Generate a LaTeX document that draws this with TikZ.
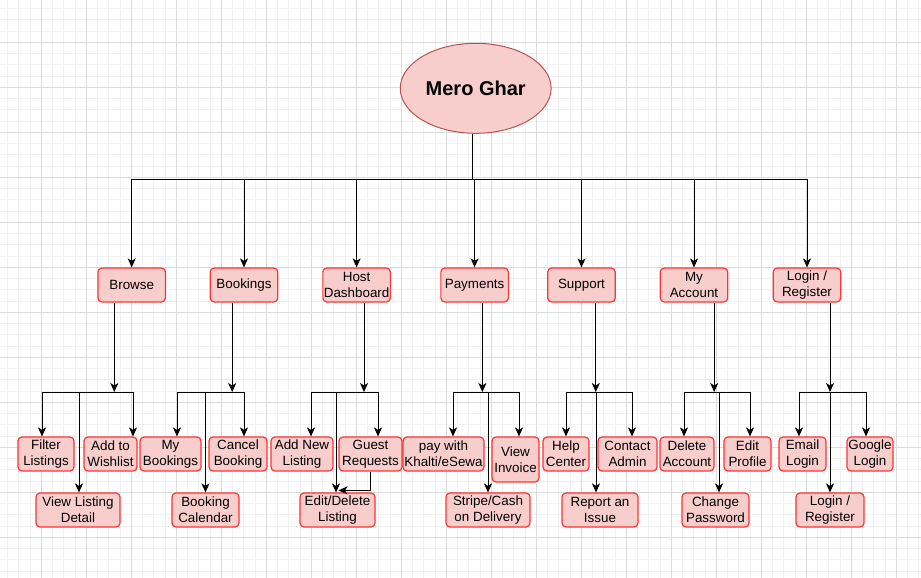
\documentclass[tikz,border=0pt]{standalone}
\usepackage{fontspec}
\setmainfont{Liberation Sans}
\usetikzlibrary{arrows.meta,shapes.geometric}
\definecolor{boxfill}{HTML}{F8CECC}
\definecolor{boxline}{HTML}{FF3333}
\definecolor{rootline}{HTML}{B85450}
\definecolor{gridminor}{HTML}{F1F1F1}
\definecolor{gridmajor}{HTML}{DCDCDC}
\begin{document}
\begin{tikzpicture}[x=1pt,y=-1pt,
  box/.style = {draw=boxline, fill=boxfill, rounded corners=4pt, line width=1.2pt, align=center, inner sep=0pt, minimum height=34pt, font=\fontsize{13.4}{16}\selectfont},
  root/.style = {draw=rootline, fill=boxfill, ellipse, line width=1pt, minimum width=136pt, minimum height=90pt, font=\fontsize{20}{24}\selectfont\bfseries},
  arr/.style = {line width=1pt, -{Stealth[length=9pt,width=8pt,inset=2.5pt]}},
  link/.style = {line width=1pt}]
\useasboundingbox (0,0) rectangle (921,578);
\begin{scope}
\clip (0,0) rectangle (921,578);
\fill[white] (0,0) rectangle (921,578);
\foreach \i in {-4,...,79} \draw[gridminor, line width=0.8pt] ({41.3+11.25*\i},0) -- ({41.3+11.25*\i},578);
\foreach \j in {-4,...,48} \draw[gridminor, line width=0.8pt] (0,{42.3+11.25*\j}) -- (921,{42.3+11.25*\j});
\foreach \i in {-1,...,19} \draw[gridmajor, line width=0.8pt] ({41.3+45*\i},0) -- ({41.3+45*\i},578);
\foreach \j in {-1,...,12} \draw[gridmajor, line width=0.8pt] (0,{42.3+45*\j}) -- (921,{42.3+45*\j});
\end{scope}

% root and main sections
\node[root] (root) at (475.7,88.3) {Mero Ghar};
\node[box, minimum width=67.5pt] (browse) at (131.7,285) {Browse};
\node[box, minimum width=67.5pt] (bookings) at (244,285) {Bookings};
\node[box, minimum width=67.5pt] (host) at (356.6,285) {Host\\Dashboard};
\node[box, minimum width=67.5pt] (payments) at (474.6,285) {Payments};
\node[box, minimum width=67.5pt] (support) at (581.5,285) {Support};
\node[box, minimum width=67.5pt] (account) at (694,285) {My\\Account};
\node[box, minimum width=67.5pt] (login) at (807,285) {Login /\\Register};

\coordinate (top) at (472.3,179.5);
\draw[link] (root.south -| top) -- (top);
\foreach \n in {browse,bookings,host,payments,support,account,login}
  \draw[arr] (top) -| (\n.north);

% junctions
\coordinate (bj) at (114.3,392);
\coordinate (kj) at (232.2,392);
\coordinate (hj) at (364,392);
\coordinate (pj) at (482.4,392);
\coordinate (sj) at (595.8,392);
\coordinate (mj) at (714.2,392);
\coordinate (lj) at (830,392);

% browse
\node[box, minimum width=56pt] (filter) at (46,454) {Filter\\Listings};
\node[box, minimum width=53pt] (wishlist) at (110.5,454) {Add to\\Wishlist};
\node[box, minimum width=84pt] (viewlisting) at (78,510) {View Listing\\Detail};
\draw[arr] (browse.south -| bj) -- (bj);
\draw[arr] (bj) -| ([xshift=-4pt]filter.north);
\draw[arr] (bj) -| ([xshift=22.5pt]wishlist.north);
\draw[arr] (bj) -| ([xshift=1pt]viewlisting.north);

% bookings
\node[box, minimum width=61pt] (mybookings) at (170.5,454) {My\\Bookings};
\node[box, minimum width=58pt] (cancel) at (238,454) {Cancel\\Booking};
\node[box, minimum width=67pt] (calendar) at (205.5,510) {Booking\\Calendar};
\draw[arr] (bookings.south -| kj) -- (kj);
\draw[arr] (kj) -| ([xshift=6.5pt]mybookings.north);
\draw[arr] (kj) -| ([xshift=6pt]cancel.north);
\draw[arr] (kj) -| (calendar.north);

% host dashboard
\node[box, minimum width=62pt] (addnew) at (302,454) {Add New\\Listing};
\node[box, minimum width=63pt] (guest) at (370.5,454) {Guest\\Requests};
\node[box, minimum width=75pt] (editlisting) at (337.5,510) {Edit/Delete\\Listing};
\draw[arr] (host.south -| hj) -- (hj);
\draw[arr] (hj) -| ([xshift=9pt]addnew.north);
\draw[arr] (hj) -| ([xshift=7.5pt]guest.north);
\draw[arr] (hj) -| ([xshift=-1.5pt]editlisting.north);
\draw[arr] ([xshift=-0.5pt]guest.south) |- ([xshift=1pt,yshift=2pt]editlisting.north);

% payments
\node[box, minimum width=81pt] (khalti) at (443.5,454) {pay with\\Khalti/eSewa};
\node[box, minimum width=47pt, minimum height=45pt] (invoice) at (515.5,459.5) {View\\Invoice};
\node[box, minimum width=84pt] (stripe) at (488,510) {Stripe/Cash\\on Delivery};
\draw[arr] (payments.south -| pj) -- (pj);
\draw[arr] (pj) -| ([xshift=9.5pt]khalti.north);
\draw[arr] (pj) -| ([xshift=3.5pt]invoice.north);
\draw[arr] (pj) -| (stripe.north);

% support
\node[box, minimum width=46pt] (help) at (566,454) {Help\\Center};
\node[box, minimum width=59pt] (contact) at (627.5,454) {Contact\\Admin};
\node[box, minimum width=76pt] (report) at (600,510) {Report an\\Issue};
\draw[arr] (support.south -| sj) -- (sj);
\draw[arr] (sj) -| (help.north);
\draw[arr] (sj) -| ([xshift=4.5pt]contact.north);
\draw[arr] (sj) -| ([xshift=-4pt]report.north);

% my account
\node[box, minimum width=54pt] (delete) at (687,454) {Delete\\Account};
\node[box, minimum width=47pt] (editprofile) at (747.5,454) {Edit\\Profile};
\node[box, minimum width=67pt] (password) at (715.5,510) {Change\\Password};
\draw[arr] (account.south -| mj) -- (mj);
\draw[arr] (mj) -| ([xshift=-3pt]delete.north);
\draw[arr] (mj) -| ([xshift=2.5pt]editprofile.north);
\draw[arr] (mj) -| ([xshift=3.5pt]password.north);

% login / register
\node[box, minimum width=47pt] (email) at (802.5,454) {Email\\Login};
\node[box, minimum width=46pt] (google) at (870,454) {Google\\Login};
\node[box, minimum width=68pt] (register) at (830,510) {Login /\\Register};
\draw[arr] (login.south -| lj) -- (lj);
\draw[arr] (lj) -| ([xshift=-3.5pt]email.north);
\draw[arr] (lj) -| ([xshift=-4pt]google.north);
\draw[arr] (lj) -| (register.north);
\end{tikzpicture}
\end{document}
